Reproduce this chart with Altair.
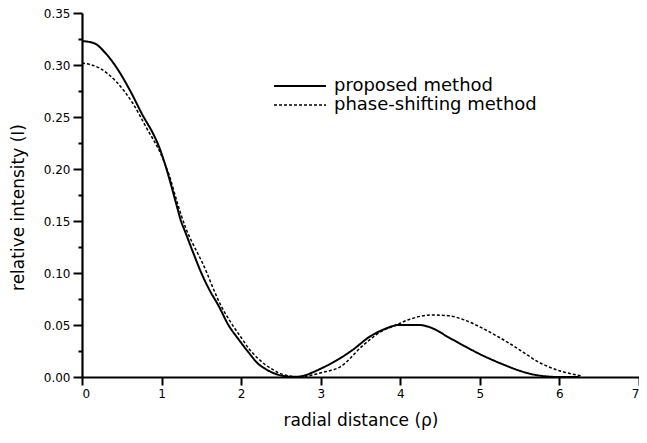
import altair as alt
import pandas as pd

# proposed method (solid)
prop_x = [0, 0.15, 0.3, 0.43, 0.6, 0.76, 0.9, 0.97, 1.05, 1.1, 1.2, 1.24, 1.3, 1.4, 1.5, 1.6,
          1.72, 1.84, 1.97, 2.1, 2.21, 2.3, 2.4, 2.5, 2.6, 2.7, 2.8, 2.9, 3.0, 3.2, 3.4, 3.62,
          3.8, 3.98, 4.24, 4.4, 4.61, 4.8, 5.0, 5.2, 5.36, 5.5, 5.7, 5.85, 6.0, 6.25]
prop_y = [0.323, 0.321, 0.311, 0.298, 0.276, 0.252, 0.233, 0.221, 0.203, 0.190, 0.162, 0.151,
          0.139, 0.119, 0.100, 0.084, 0.068, 0.050, 0.036, 0.023, 0.013, 0.008, 0.004, 0.0015,
          0.0003, 0.0002, 0.0015, 0.0045, 0.008, 0.016, 0.026, 0.039, 0.046, 0.050, 0.050, 0.047,
          0.038, 0.030, 0.022, 0.015, 0.010, 0.006, 0.002, 0.0005, 0.0, 0.0]

# phase-shifting method (dashed)
phase_x = [0, 0.22, 0.43, 0.64, 0.8, 1.01, 1.1, 1.2, 1.3, 1.4, 1.5, 1.57, 1.65, 1.75, 1.85,
           1.9, 2.0, 2.1, 2.21, 2.3, 2.4, 2.5, 2.6, 2.7, 2.8, 2.9, 3.0, 3.25, 3.54, 3.79, 3.92,
           4.1, 4.39, 4.6, 4.8, 5.03, 5.2, 5.4, 5.6, 5.7, 5.8, 6.0, 6.15, 6.28]
phase_y = [0.302, 0.297, 0.284, 0.263, 0.241, 0.211, 0.193, 0.167, 0.144, 0.127, 0.112, 0.100,
           0.085, 0.068, 0.055, 0.049, 0.038, 0.027, 0.018, 0.012, 0.007, 0.003, 0.001, 0.0,
           0.0005, 0.002, 0.004, 0.010, 0.031, 0.045, 0.049, 0.055, 0.0596, 0.059, 0.055, 0.047,
           0.040, 0.031, 0.021, 0.016, 0.012, 0.006, 0.003, 0.001]

series = ["proposed method", "phase-shifting method"]

df = pd.concat([
    pd.DataFrame({"x": prop_x, "y": prop_y, "method": series[0], "order": range(len(prop_x))}),
    pd.DataFrame({"x": phase_x, "y": phase_y, "method": series[1], "order": range(len(phase_x))}),
])

x_ticks = [i * 0.5 for i in range(15)]
y_ticks = [round(i * 0.025, 3) for i in range(15)]

FONT = "DejaVu Sans"

chart = alt.Chart(df).mark_line(interpolate="monotone", color="black").encode(
    x=alt.X("x:Q", scale=alt.Scale(domain=[0, 7], nice=False, zero=False),
            axis=alt.Axis(title="radial distance (ρ)", values=x_ticks, format="d",
                          labelExpr="datum.value % 1 === 0 ? datum.label : ''",
                          tickSize=alt.condition("datum.value % 1 === 0", alt.value(8), alt.value(4)),
                          labelPadding=3, titleY=48, titleBaseline="alphabetic")),
    y=alt.Y("y:Q", scale=alt.Scale(domain=[0, 0.35], nice=False),
            axis=alt.Axis(title="relative intensity (I)", values=y_ticks, format=".2f",
                          labelExpr="abs(datum.value*20 - round(datum.value*20)) < 0.001 ? datum.label : ''",
                          tickSize=alt.condition("abs(datum.value*20 - round(datum.value*20)) < 0.001", alt.value(9), alt.value(4)),
                          labelPadding=3, titleX=-59, titleY=194, titleBaseline="alphabetic")),
    strokeDash=alt.StrokeDash("method:N", scale=alt.Scale(domain=series, range=[[1, 0], [3, 2]]),
                              legend=alt.Legend(title=None, orient="none", legendX=191, legendY=64.5,
                                                symbolType="stroke", symbolSize=2704,
                                                symbolStrokeColor="black", symbolStrokeWidth=1.8,
                                                clipHeight=17, rowPadding=0, labelOffset=7,
                                                labelFont=FONT, labelFontSize=18, labelColor="black",
                                                labelLimit=400, padding=0)),
    strokeWidth=alt.StrokeWidth("method:N", scale=alt.Scale(domain=series, range=[2, 1.5]), legend=None),
    order="order:Q",
).properties(
    width=557, height=364,
    autosize=alt.AutoSizeParams(type="none"),
    padding={"left": 74, "top": 5, "right": 0, "bottom": 58},
    background="white",
).configure_view(stroke=None).configure_axis(
    domainColor="black", domainWidth=2.2, tickColor="black", tickWidth=2,
    labelFont=FONT, labelFontSize=12, labelColor="black",
    titleFont=FONT, titleFontSize=17, titleFontWeight="normal", titleColor="black",
    grid=False,
)

chart.save("out.html", embed_options={"renderer": "svg", "actions": False})
